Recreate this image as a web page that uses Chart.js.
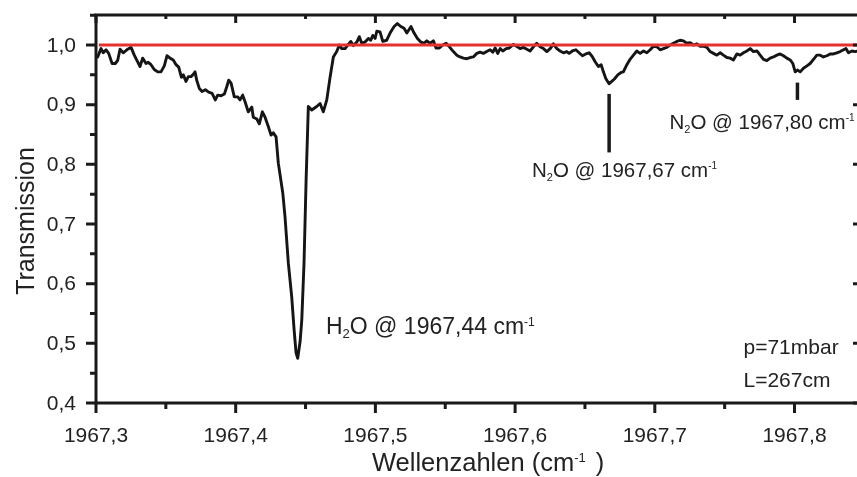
<!DOCTYPE html>
<html>
<head>
<meta charset="utf-8">
<title>Transmission</title>
<script src="https://cdn.jsdelivr.net/npm/chart.js"></script>
<style>
    html, body { margin: 0; padding: 0; background: #fff; overflow: hidden; }
    #wrap { width: 870px; height: 477px; }
</style>
</head>
<body>
<div id="wrap"><canvas id="spectrum" width="870" height="477"></canvas></div>
<script>
// measured spectrum, wavenumber in cm-1
const wavenumber = [
    1967.3000, 1967.3012, 1967.3036, 1967.3052, 1967.3072, 1967.3091, 1967.3115, 1967.3138, 1967.3155, 1967.3172,
    1967.3195, 1967.3227, 1967.3251, 1967.3274, 1967.3291, 1967.3315, 1967.3334, 1967.3358, 1967.3374, 1967.3394,
    1967.3417, 1967.3442, 1967.3465, 1967.3489, 1967.3508, 1967.3530, 1967.3553, 1967.3573, 1967.3592, 1967.3611,
    1967.3625, 1967.3644, 1967.3661, 1967.3680, 1967.3697, 1967.3709, 1967.3721, 1967.3740, 1967.3759, 1967.3783,
    1967.3807, 1967.3831, 1967.3854, 1967.3871, 1967.3895, 1967.3919, 1967.3936, 1967.3950, 1967.3967, 1967.3990,
    1967.4015, 1967.4031, 1967.4050, 1967.4067, 1967.4090, 1967.4115, 1967.4126, 1967.4151, 1967.4169, 1967.4191,
    1967.4210, 1967.4234, 1967.4253, 1967.4269, 1967.4289, 1967.4305, 1967.4337, 1967.4353, 1967.4377, 1967.4401,
    1967.4418, 1967.4432, 1967.4444, 1967.4461, 1967.4473, 1967.4489, 1967.4504, 1967.4520, 1967.4544, 1967.4580,
    1967.4604, 1967.4627, 1967.4652, 1967.4675, 1967.4699, 1967.4723, 1967.4742, 1967.4759, 1967.4783, 1967.4806,
    1967.4824, 1967.4842, 1967.4867, 1967.4885, 1967.4902, 1967.4926, 1967.4950, 1967.4967, 1967.4981, 1967.4998,
    1967.5010, 1967.5033, 1967.5053, 1967.5081, 1967.5105, 1967.5134, 1967.5157, 1967.5182, 1967.5205, 1967.5225,
    1967.5255, 1967.5277, 1967.5301, 1967.5325, 1967.5348, 1967.5368, 1967.5391, 1967.5415, 1967.5434, 1967.5458,
    1967.5482, 1967.5506, 1967.5530, 1967.5558, 1967.5583, 1967.5606, 1967.5630, 1967.5654, 1967.5678, 1967.5701,
    1967.5726, 1967.5749, 1967.5773, 1967.5797, 1967.5821, 1967.5840, 1967.5857, 1967.5876, 1967.5893, 1967.5912,
    1967.5936, 1967.5959, 1967.5988, 1967.6017, 1967.6036, 1967.6059, 1967.6084, 1967.6107, 1967.6131, 1967.6155,
    1967.6179, 1967.6203, 1967.6227, 1967.6251, 1967.6274, 1967.6299, 1967.6322, 1967.6346, 1967.6370, 1967.6387,
    1967.6410, 1967.6435, 1967.6458, 1967.6482, 1967.6506, 1967.6530, 1967.6554, 1967.6573, 1967.6596, 1967.6616,
    1967.6632, 1967.6649, 1967.6673, 1967.6692, 1967.6711, 1967.6735, 1967.6759, 1967.6775, 1967.6800, 1967.6823,
    1967.6847, 1967.6871, 1967.6895, 1967.6919, 1967.6943, 1967.6967, 1967.6990, 1967.7015, 1967.7038, 1967.7062,
    1967.7086, 1967.7110, 1967.7133, 1967.7158, 1967.7181, 1967.7205, 1967.7229, 1967.7253, 1967.7277, 1967.7301,
    1967.7325, 1967.7348, 1967.7373, 1967.7396, 1967.7420, 1967.7444, 1967.7468, 1967.7491, 1967.7516, 1967.7539,
    1967.7563, 1967.7587, 1967.7611, 1967.7635, 1967.7659, 1967.7683, 1967.7706, 1967.7731, 1967.7754, 1967.7778,
    1967.7802, 1967.7826, 1967.7849, 1967.7874, 1967.7897, 1967.7921, 1967.7945, 1967.7969, 1967.7988, 1967.8005,
    1967.8021, 1967.8041, 1967.8064, 1967.8089, 1967.8112, 1967.8136, 1967.8160, 1967.8184, 1967.8207, 1967.8232,
    1967.8255, 1967.8279, 1967.8303, 1967.8327, 1967.8351, 1967.8368, 1967.8386, 1967.8411, 1967.8434, 1967.8456
];

const transmission = [
    0.980, 0.980, 0.994, 0.987, 0.992, 0.986, 0.969, 0.969, 0.974, 0.993,
    0.987, 0.993, 0.996, 0.983, 0.975, 0.964, 0.978, 0.969, 0.971, 0.967,
    0.959, 0.955, 0.955, 0.965, 0.982, 0.978, 0.975, 0.967, 0.963, 0.946,
    0.950, 0.939, 0.947, 0.947, 0.951, 0.955, 0.941, 0.927, 0.922, 0.925,
    0.921, 0.919, 0.908, 0.916, 0.915, 0.918, 0.930, 0.941, 0.936, 0.913,
    0.913, 0.908, 0.916, 0.905, 0.888, 0.896, 0.879, 0.876, 0.868, 0.888,
    0.879, 0.863, 0.849, 0.853, 0.846, 0.802, 0.752, 0.712, 0.634, 0.578,
    0.523, 0.484, 0.475, 0.503, 0.539, 0.634, 0.774, 0.897, 0.891, 0.897,
    0.902, 0.888, 0.908, 0.945, 0.980, 0.989, 1.000, 0.994, 0.994, 1.001,
    1.006, 0.999, 1.005, 1.014, 1.003, 1.005, 1.011, 1.008, 1.016, 1.011,
    1.023, 1.022, 1.006, 1.008, 1.020, 1.031, 1.036, 1.031, 1.028, 1.020,
    1.031, 1.020, 1.011, 1.005, 1.003, 1.007, 1.003, 1.007, 0.995, 0.995,
    1.000, 1.003, 0.997, 0.989, 0.983, 0.980, 0.978, 0.977, 0.979, 0.980,
    0.986, 0.988, 0.986, 0.989, 0.992, 0.988, 0.995, 0.986, 0.994, 0.990,
    0.994, 0.995, 1.001, 0.997, 0.994, 0.996, 0.993, 0.990, 0.997, 1.003,
    0.997, 0.994, 0.989, 0.994, 1.002, 0.994, 0.990, 0.987, 0.989, 0.986,
    0.990, 0.992, 0.987, 0.982, 0.985, 0.987, 0.980, 0.972, 0.964, 0.967,
    0.955, 0.944, 0.935, 0.939, 0.943, 0.950, 0.954, 0.955, 0.967, 0.976,
    0.983, 0.990, 0.986, 0.990, 0.987, 0.992, 0.998, 0.997, 0.992, 0.994,
    0.996, 1.000, 1.003, 1.006, 1.008, 1.007, 1.003, 1.004, 1.000, 1.002,
    0.998, 0.998, 0.996, 0.989, 0.986, 0.983, 0.987, 0.983, 0.979, 0.978,
    0.975, 0.985, 0.983, 0.987, 0.990, 0.994, 0.989, 0.990, 0.983, 0.976,
    0.974, 0.978, 0.980, 0.983, 0.985, 0.982, 0.978, 0.975, 0.969, 0.955,
    0.958, 0.955, 0.961, 0.965, 0.969, 0.976, 0.983, 0.983, 0.980, 0.982,
    0.985, 0.985, 0.987, 0.989, 0.992, 0.994, 0.987, 0.990, 0.989, 0.990
];

// 100 % line
const referenceWn = [1967.302, 1967.848];
const referenceT = [1.0, 1.0];

const xTicks = [1967.3, 1967.4, 1967.5, 1967.6, 1967.7, 1967.8];
const yTicks = [0.4, 0.5, 0.6, 0.7, 0.8, 0.9, 1.0];

// line labels: formula pieces (atom, index, atom) and position
const peakFormula = [['H', '2', 'O'], ['N', '2', 'O'], ['N', '2', 'O']];
const peakCenter = ['1967,44', '1967,67', '1967,80'];

// small marker bars under the N2O lines
const markerWn = [1967.6673, 1967.8021];
const markerTop = [0.918, 0.937];
const markerBottom = [0.820, 0.908];

const conditions = ['p=71mbar', 'L=267cm'];

const FONT = 'Arial, "Liberation Sans", sans-serif';
const INK = '#1a1a1a';

function fmt(v) {
    return v.toFixed(1).replace('.', ',');
}

// draws text made of normal / sub / sup pieces, returns end x
function richText(ctx, parts, x, baseY, size) {
    let cx = x;
    parts.forEach(([t, kind]) => {
        let s = size, dy = 0;
        if (kind === 'sub') { s = Math.round(size * 0.55); dy = size * 0.2; }
        if (kind === 'sup') { s = Math.round(size * 0.5); dy = -0.716 * (size - s); }
        ctx.font = s + 'px ' + FONT;
        ctx.fillText(t, cx, baseY + dy);
        cx += ctx.measureText(t).width;
    });
    return cx;
}

const frameAndText = {
    id: 'frameAndText',
    afterDraw(chart) {
        const {ctx, chartArea: a, scales: {x, y}} = chart;
        ctx.save();
        ctx.strokeStyle = INK;
        ctx.fillStyle = INK;

        // frame
        ctx.lineWidth = 3;
        ctx.strokeRect(a.left, a.top, a.right - a.left, a.bottom - a.top);

        // ticks (major + minor halfway)
        ctx.lineWidth = 3;
        ctx.lineCap = 'butt';
        const xStep = (xTicks[1] - xTicks[0]) / 2;
        for (let i = 0; ; i++) {
            const v = xTicks[0] + i * xStep;
            if (v > x.max + 1e-9) break;
            const px = x.getPixelForValue(v);
            const major = i % 2 === 0;
            ctx.beginPath();
            ctx.moveTo(px, a.bottom);
            ctx.lineTo(px, a.bottom + (major ? 10 : 6));
            ctx.moveTo(px, a.top);
            ctx.lineTo(px, a.top + (major ? 8 : 4));
            ctx.stroke();
        }
        const yStep = (yTicks[1] - yTicks[0]) / 2;
        for (let i = 0; ; i++) {
            const v = yTicks[0] + i * yStep;
            if (v > y.max + 1e-9) break;
            const py = y.getPixelForValue(v);
            const major = i % 2 === 0;
            ctx.beginPath();
            ctx.moveTo(a.left - (major ? 10 : 6), py);
            ctx.lineTo(a.left, py);
            ctx.moveTo(a.right - (major ? 8 : 4), py);
            ctx.lineTo(a.right, py);
            ctx.stroke();
        }

        // tick labels
        ctx.fillStyle = '#222';
        ctx.font = '21px ' + FONT;
        ctx.textAlign = 'center';
        ctx.textBaseline = 'alphabetic';
        xTicks.forEach(v => ctx.fillText(fmt(v), x.getPixelForValue(v), a.bottom + 39));
        ctx.textAlign = 'right';
        ctx.textBaseline = 'middle';
        yTicks.forEach(v => ctx.fillText(fmt(v), a.left - 20, y.getPixelForValue(v) + 1));

        // axis titles
        ctx.textAlign = 'left';
        ctx.textBaseline = 'alphabetic';
        const endX = richText(ctx, [['Wellenzahlen (cm', ''], ['-1', 'sup']], a.left + 276, a.bottom + 68, 25.5);
        ctx.font = '25.5px ' + FONT;
        ctx.fillText(')', endX + 10, a.bottom + 68);

        ctx.save();
        ctx.translate(33.5, 221);
        ctx.rotate(-Math.PI / 2);
        ctx.textAlign = 'center';
        ctx.font = '25px ' + FONT;
        ctx.fillText('Transmission', 0, 0);
        ctx.restore();

        // marker bars
        ctx.strokeStyle = INK;
        ctx.lineWidth = 3.5;
        markerWn.forEach((wn, i) => {
            const px = x.getPixelForValue(wn);
            ctx.beginPath();
            ctx.moveTo(px, y.getPixelForValue(markerTop[i]));
            ctx.lineTo(px, y.getPixelForValue(markerBottom[i]));
            ctx.stroke();
        });

        // line labels
        ctx.textAlign = 'left';
        const labelPos = [[326, 333.5, 23], [532, 177, 20.5], [669.5, 129, 20.5]];
        peakFormula.forEach((f, i) => {
            richText(ctx, [
                [f[0], ''], [f[1], 'sub'], [f[2] + ' @ ' + peakCenter[i] + ' cm', ''], ['-1', 'sup']
            ], labelPos[i][0], labelPos[i][1], labelPos[i][2]);
        });

        // measurement conditions
        ctx.font = '21px ' + FONT;
        ctx.fillText(conditions[0], 743.5, 353.5);
        ctx.fillText(conditions[1], 743.5, 387);

        ctx.restore();
    }
};

const ctx = document.getElementById('spectrum').getContext('2d');

const spectrumChart = new Chart(ctx, {
    type: 'line',
    data: {
        datasets: [{
            label: '100 %',
            data: referenceWn.map((wn, i) => ({x: wn, y: referenceT[i]})),
            borderColor: '#e3322f',
            borderWidth: 3,
            pointRadius: 0,
            order: 0
        }, {
            label: 'Transmission',
            data: wavenumber.map((wn, i) => ({x: wn, y: transmission[i]})),
            borderColor: '#151515',
            borderWidth: 2.9,
            borderJoinStyle: 'round',
            pointRadius: 0,
            tension: 0,
            order: 1
        }]
    },
    options: {
        responsive: false,
        animation: false,
        devicePixelRatio: 1,
        events: [],
        layout: {
            padding: {left: 96, top: 15, right: 9, bottom: 74}
        },
        scales: {
            x: {type: 'linear', min: 1967.3, max: 1967.8476, display: false},
            y: {type: 'linear', min: 0.4, max: 1.0503, display: false}
        },
        plugins: {
            legend: {display: false},
            tooltip: {enabled: false}
        }
    },
    plugins: [frameAndText]
});
</script>
</body>
</html>
